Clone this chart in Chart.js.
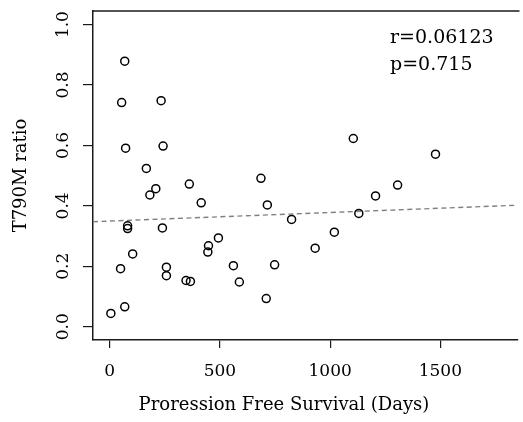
<!DOCTYPE html>
<html><head><meta charset="utf-8">
<script src="https://cdn.jsdelivr.net/npm/chart.js@4"></script>
<style>html,body{margin:0;padding:0;background:#fff;}#wrap{width:523px;height:422px;}</style>
</head><body><div id="wrap"><canvas id="c" width="523" height="422"></canvas></div>
<script>
const pfsDays = [5, 49, 68, 54, 68, 72, 81, 81, 104, 166, 182, 209, 233, 242, 239, 257, 257, 346, 366, 361, 415, 445, 448, 493, 561, 588, 686, 715, 710, 748, 825, 932, 1019, 1105, 1130, 1206, 1306, 1478];
const t790mRatio = [0.044, 0.192, 0.066, 0.742, 0.879, 0.591, 0.334, 0.325, 0.241, 0.524, 0.436, 0.457, 0.748, 0.598, 0.327, 0.197, 0.169, 0.153, 0.150, 0.472, 0.410, 0.247, 0.268, 0.294, 0.202, 0.148, 0.491, 0.403, 0.093, 0.205, 0.355, 0.260, 0.313, 0.623, 0.375, 0.433, 0.469, 0.571];
const xTicks = [0, 500, 1000, 1500];
const yTicks = [0.0, 0.2, 0.4, 0.6, 0.8, 1.0];
const xTitle = "Proression Free Survival (Days)";
const yTitle = "T790M ratio";
const statLines = ["r=0.06123", "p=0.715"];

const X_MIN = -76, X_MAX = 1850, Y_MIN = -0.044, Y_MAX = 1.045;
const FONT = '"DejaVu Serif", serif';

// least-squares fit of the data
const n = pfsDays.length;
const mx = pfsDays.reduce((a, b) => a + b, 0) / n;
const my = t790mRatio.reduce((a, b) => a + b, 0) / n;
let sxy = 0, sxx = 0;
for (let i = 0; i < n; i++) { sxy += (pfsDays[i] - mx) * (t790mRatio[i] - my); sxx += (pfsDays[i] - mx) ** 2; }
const slope = sxy / sxx, intercept = my - slope * mx;

const points = pfsDays.map((d, i) => ({ x: d, y: t790mRatio[i] }));
const fitLine = [X_MIN, X_MAX].map(x => ({ x: x, y: intercept + slope * x }));

const decor = {
  id: 'decor',
  afterDraw(chart) {
    const ctx = chart.ctx, a = chart.chartArea;
    const ys = chart.scales.y;
    ctx.save();
    ctx.strokeStyle = '#1a1a1a'; ctx.lineWidth = 1.5;
    ctx.beginPath(); ctx.moveTo(a.left - 0.75, a.top); ctx.lineTo(a.right + 2, a.top); ctx.stroke();
    ctx.fillStyle = '#000';
    ctx.font = '17px ' + FONT;
    ctx.textAlign = 'center'; ctx.textBaseline = 'middle';
    yTicks.forEach(v => {
      const py = ys.getPixelForValue(v);
      ctx.save(); ctx.translate(64, py); ctx.rotate(-Math.PI / 2);
      ctx.fillText(v.toFixed(1), 0, 0); ctx.restore();
    });
    ctx.font = '18px ' + FONT;
    ctx.textBaseline = 'alphabetic';
    ctx.fillText(xTitle, 284, 410);
    ctx.save(); ctx.translate(26, (a.top + a.bottom) / 2); ctx.rotate(-Math.PI / 2);
    ctx.fillText(yTitle, 0, 0); ctx.restore();
    ctx.font = '19px ' + FONT; ctx.textAlign = 'left';
    ctx.fillText(statLines[0], 390, 43);
    ctx.fillText(statLines[1], 390, 70);
    ctx.restore();
  }
};

new Chart(document.getElementById('c'), {
  type: 'scatter',
  data: {
    datasets: [
      { type: 'line', data: fitLine, borderColor: '#808080', borderWidth: 1.4, borderDash: [5, 3.5], pointRadius: 0, fill: false, order: 2 },
      { data: points, pointRadius: 4, pointHoverRadius: 4, pointBorderWidth: 1.5, borderColor: '#000', backgroundColor: 'rgba(0,0,0,0)', order: 1 }
    ]
  },
  options: {
    responsive: false, animation: false, devicePixelRatio: 1,
    layout: { padding: { top: 11, right: 0, left: 0, bottom: 0 } },
    plugins: { legend: { display: false }, tooltip: { enabled: false }, title: { display: false } },
    scales: {
      x: {
        type: 'linear', min: X_MIN, max: X_MAX,
        afterBuildTicks: s => { s.ticks = xTicks.map(v => ({ value: v })); },
        afterFit: s => { s.height = 82; },
        ticks: { autoSkip: false, maxRotation: 0, minRotation: 0, padding: 13, color: '#000', font: { family: FONT, size: 17 }, callback: v => String(v) },
        grid: { drawOnChartArea: false, drawTicks: true, tickLength: 8, color: '#1a1a1a', lineWidth: 1.2 },
        border: { display: true, color: '#1a1a1a', width: 1.5 }
      },
      y: {
        type: 'linear', min: Y_MIN, max: Y_MAX,
        afterBuildTicks: s => { s.ticks = yTicks.map(v => ({ value: v })); },
        afterFit: s => { s.width = 93; },
        ticks: { display: false },
        grid: { drawOnChartArea: false, drawTicks: true, tickLength: 10, color: '#1a1a1a', lineWidth: 1.2 },
        border: { display: true, color: '#1a1a1a', width: 1.5 }
      }
    }
  },
  plugins: [decor]
});
</script>
</body></html>
